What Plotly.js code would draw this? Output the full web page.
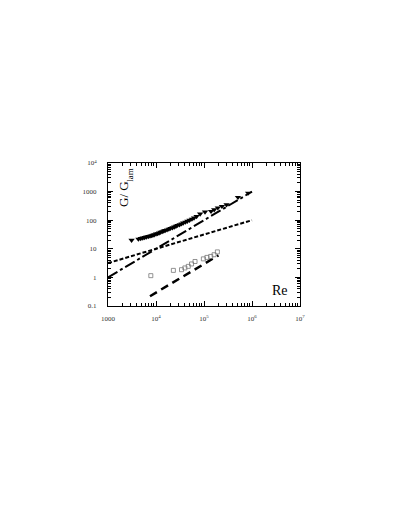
<!DOCTYPE html>
<html>
<head>
<meta charset="utf-8">
<script src="https://cdn.plot.ly/plotly-3.0.1.min.js"></script>
<style>
  html, body { margin: 0; padding: 0; background: #fff; }
  #chart { width: 409px; height: 529px; }
</style>
</head>
<body>
<div id="chart"></div>
<script>
// turbulent data (filled triangles)
const triRe = [3100, 4300, 4800, 5300, 5800, 6300, 6900, 7500, 8000, 8600, 9200,
  10000, 10800, 11600, 12500, 13500, 14500, 15500, 17000, 18500, 20000, 22000,
  24000, 26000, 28000, 31000, 34000, 37000, 41000, 45000, 50000, 56000, 62000,
  70000, 83000, 105000, 140000, 163000, 194000, 236000, 295000, 510000, 830000];
const triG = [20, 22, 23, 24, 25, 26, 27, 28, 29, 30, 31,
  33, 34, 36, 38, 40, 42, 44, 46, 49, 52, 55,
  58, 62, 66, 70, 75, 80, 86, 92, 100, 110, 120,
  135, 166, 195, 205, 233, 270, 305, 347, 630, 890];

// open squares
const sqRe = [7800, 23000, 34000, 40000, 47000, 55000, 65000, 97000, 115000, 138000, 162000, 190000];
const sqG = [1.15, 1.76, 1.86, 2.14, 2.43, 2.95, 3.6, 4.45, 5.0, 5.4, 6.2, 7.8];

// reference lines
const dotRe = [1000, 1e6];
const dotG = [3.16, 100];
const dashDotRe = [1000, 1e6];
const dashDotG = [1, 1000];
const dashRe = [7500, 200000];
const dashG = [0.22, 5.9];

const xTickVals = [1e3, 1e4, 1e5, 1e6, 1e7];
const xTickText = ['1000', '10<sup>4</sup>', '10<sup>5</sup>', '10<sup>6</sup>', '10<sup>7</sup>'];
const yTickVals = [0.1, 1, 10, 100, 1000, 1e4];
const yTickText = ['0.1', '1', '10', '100', '1000', '10<sup>4</sup>'];

const serif = 'Liberation Serif, Times New Roman, serif';

const traces = [
  {
    x: dotRe, y: dotG, mode: 'lines',
    line: { color: '#000', width: 2, dash: '4px,2px' }
  },
  {
    x: dashDotRe, y: dashDotG, mode: 'lines',
    line: { color: '#000', width: 2, dash: '11px,3px,3px,3px' }
  },
  {
    x: dashRe, y: dashG, mode: 'lines',
    line: { color: '#000', width: 2.5, dash: '8px,5px' }
  },
  {
    x: triRe, y: triG, mode: 'markers',
    marker: { symbol: 'triangle-down', size: 5.5, color: '#000' }
  },
  {
    x: sqRe, y: sqG, mode: 'markers',
    marker: { symbol: 'square-open', size: 4, color: '#777', line: { width: 0.8 } }
  }
];

const axisCommon = {
  type: 'log',
  showgrid: false,
  zeroline: false,
  showline: true,
  linecolor: '#000',
  linewidth: 1,
  mirror: 'ticks',
  ticks: 'inside',
  ticklen: 5,
  tickwidth: 1,
  tickcolor: '#000',
  tickmode: 'array',
  tickfont: { family: serif, size: 7, color: '#333' },
  minor: { ticks: 'inside', ticklen: 3, tickwidth: 1, tickcolor: '#000', dtick: 'D1' }
};

const layout = {
  width: 409,
  height: 529,
  margin: { l: 108, r: 109, t: 163, b: 223 },
  paper_bgcolor: '#fff',
  plot_bgcolor: '#fff',
  showlegend: false,
  xaxis: Object.assign({}, axisCommon, {
    range: [3, 7],
    tickvals: xTickVals,
    ticktext: xTickText,
    ticklabelstandoff: 6
  }),
  yaxis: Object.assign({}, axisCommon, {
    range: [-1, 4],
    tickvals: yTickVals,
    ticktext: yTickText,
    ticklabelstandoff: 9
  }),
  annotations: [
    {
      text: 'G/ G', xref: 'paper', yref: 'paper', x: 0.081, y: 0.78,
      xanchor: 'center', yanchor: 'middle',
      showarrow: false, textangle: -90,
      font: { family: serif, size: 13, color: '#000' }
    },
    {
      text: 'lam', xref: 'paper', yref: 'paper', x: 0.113, y: 0.915,
      xanchor: 'center', yanchor: 'middle',
      showarrow: false, textangle: -90,
      font: { family: serif, size: 9, color: '#000' }
    },
    {
      text: 'Re', xref: 'paper', yref: 'paper', x: 0.896, y: 0.105,
      xanchor: 'center', yanchor: 'middle',
      showarrow: false,
      font: { family: serif, size: 14, color: '#000' }
    }
  ]
};

Plotly.newPlot('chart', traces, layout, { staticPlot: true, displayModeBar: false });
</script>
</body>
</html>
